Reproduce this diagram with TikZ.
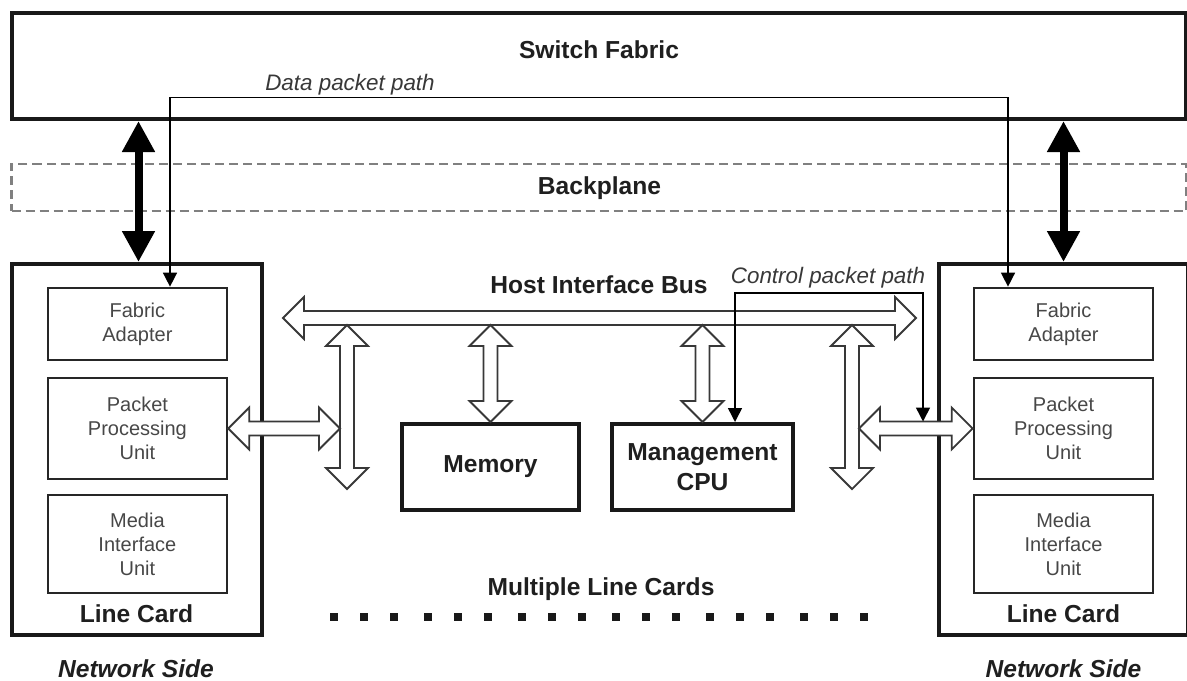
\documentclass[tikz,border=0pt]{standalone}
\usepackage{fontspec}
\setmainfont{Liberation Sans}
\usetikzlibrary{arrows.meta,calc,fit}

\newcommand\myvarrow[2]{% #1 top point, #2 bottom point (same x)
  \draw[hollow] let \p1=(#1), \p2=(#2) in
    (\x1,\y1) -- (\x1+10.5pt,\y1-10.5pt) -- (\x1+3.5pt,\y1-10.5pt) -- (\x1+3.5pt,\y2+10.5pt)
    -- (\x1+10.5pt,\y2+10.5pt) -- (\x1,\y2) -- (\x1-10.5pt,\y2+10.5pt) -- (\x1-3.5pt,\y2+10.5pt)
    -- (\x1-3.5pt,\y1-10.5pt) -- (\x1-10.5pt,\y1-10.5pt) -- cycle;}
\newcommand\myharrow[2]{% #1 left point, #2 right point (same y)
  \draw[hollow] let \p1=(#1), \p2=(#2) in
    (\x1,\y1) -- (\x1+10.5pt,\y1+10.5pt) -- (\x1+10.5pt,\y1+3.5pt) -- (\x2-10.5pt,\y1+3.5pt)
    -- (\x2-10.5pt,\y1+10.5pt) -- (\x2,\y1) -- (\x2-10.5pt,\y1-10.5pt) -- (\x2-10.5pt,\y1-3.5pt)
    -- (\x1+10.5pt,\y1-3.5pt) -- (\x1+10.5pt,\y1-10.5pt) -- cycle;}

\begin{document}
\begin{tikzpicture}[x=0.5pt,y=-0.5pt,
  bigbox/.style={draw=black!90, line width=2pt, inner sep=0pt},
  subbox/.style={draw=black!85, line width=1.35pt, inner sep=0pt,
    minimum width=89.5pt, font=\fontsize{10}{12}\selectfont, text=black!72, align=center},
  cpubox/.style={draw=black!90, line width=2pt, inner sep=0pt, minimum height=43pt,
    font=\fontsize{12.3}{15}\selectfont\bfseries, text=black!88, align=center},
  dashbox/.style={draw=black!50, line width=1.2pt, dash pattern=on 4.5pt off 2.5pt, inner sep=0pt},
  lbl/.style={font=\fontsize{12.3}{15}\selectfont\bfseries, text=black!88, anchor=base, inner sep=0pt},
  sidelbl/.style={font=\fontsize{12.3}{15}\selectfont\bfseries\itshape, text=black!88, anchor=base, inner sep=0pt},
  pathlbl/.style={font=\fontsize{11.2}{13}\selectfont\itshape, text=black!78, anchor=base, inner sep=0pt},
  hollow/.style={draw=black!78, line width=0.9pt, fill=white, line join=miter},
  thinboth/.style={draw=black, line width=0.75pt,
    {Triangle[length=7pt,width=7pt]}-{Triangle[length=7pt,width=7pt]}},
  thickarr/.style={draw=black, line width=4pt,
    {Triangle[length=15.5pt,width=15.5pt]}-{Triangle[length=15.5pt,width=15.5pt]}},
]
\useasboundingbox (0,0) rectangle (1187,680);

% Switch fabric and backplane
\node[bigbox, fit={(11.5,13)(1186,119)}] (sf) {};
\node[lbl] (sft) at (599,58) {Switch Fabric};
\node[dashbox, fit={(11.5,164)(1186,211)}] (bp) {};
\node[lbl] (bpt) at (599.5,194) {Backplane};

% Line cards
\node[bigbox, fit={(11.5,264)(262,635)}] (lcL) {};
\node[bigbox, fit={(939,264)(1188,635)}] (lcR) {};
\node[subbox, minimum height=36pt]   (faL)  at (137.4,324)   {Fabric\\Adapter};
\node[subbox, minimum height=50.5pt] (ppuL) at (137.4,428.5) {Packet\\Processing\\Unit};
\node[subbox, minimum height=49pt]   (miuL) at (137.4,544)   {Media\\Interface\\Unit};
\node[subbox, minimum height=36pt]   (faR)  at (1063.5,324)   {Fabric\\Adapter};
\node[subbox, minimum height=50.5pt] (ppuR) at (1063.5,428.5) {Packet\\Processing\\Unit};
\node[subbox, minimum height=49pt]   (miuR) at (1063.5,544)   {Media\\Interface\\Unit};
\node[lbl] (lctL) at (136.5,622) {Line Card};
\node[lbl] (lctR) at (1063.5,622) {Line Card};
\node[sidelbl] (nsL) at (136,677) {Network Side};
\node[sidelbl] (nsR) at (1063.5,677) {Network Side};

% Memory and CPU
\node[cpubox, minimum width=88.5pt] (mem) at (490.5,467) {Memory};
\node[cpubox, minimum width=90.5pt] (cpu) at (702.5,467) {Management\\CPU};

% Labels
\node[lbl] (hib) at (599,293) {Host Interface Bus};
\node[lbl] (mlc) at (601,595) {Multiple Line Cards};
\node[pathlbl] (dpt) at (350,90) {Data packet path};
\node[pathlbl] (cpt) at (828,283) {Control packet path};

% Dots
\foreach \g in {0,...,5}
  \foreach \k in {0,1,2}
    \fill[black!90] ({333.7+94.1*\g+30.1*\k-4},613) rectangle ++(8,8);

% Thick backplane arrows
\coordinate (tkL) at (138.5,0);
\coordinate (tkR) at (1063.5,0);
\draw[thickarr] (sf.south -| tkL) -- (lcL.north -| tkL);
\draw[thickarr] (sf.south -| tkR) -- (lcR.north -| tkR);

% Data packet path
\coordinate (dpa) at (170,97.7);
\coordinate (dpb) at (1008,97.7);
\draw[thinboth] (faL.north -| dpa) -- (dpa) -- (dpb) -- (faR.north -| dpb);

% Host interface bus
\coordinate (busL) at (283,318);
\coordinate (busR) at (916,318);
\coordinate (busB) at (0,325);
\myharrow{busL}{busR}
\coordinate (v1t) at (347,325);
\coordinate (v1b) at (347,489);
\coordinate (v4t) at (852,325);
\coordinate (v4b) at (852,489);
\myvarrow{v1t}{v1b}
\myvarrow{mem.north |- busB}{mem.north}
\myvarrow{cpu.north |- busB}{cpu.north}
\myvarrow{v4t}{v4b}

% Card to bus connections
\coordinate (hL) at (340,0);
\coordinate (hR) at (859,0);
\myharrow{ppuL.east}{ppuL.east -| hL}
\myharrow{ppuR.west -| hR}{ppuR.west}

% Control packet path
\coordinate (cpa) at (735,293);
\coordinate (cpb) at (923,293);
\coordinate (cpe) at (923,421.5);
\draw[thinboth] (cpu.north -| cpa) -- (cpa) -- (cpb) -- (cpe);
\end{tikzpicture}
\end{document}
